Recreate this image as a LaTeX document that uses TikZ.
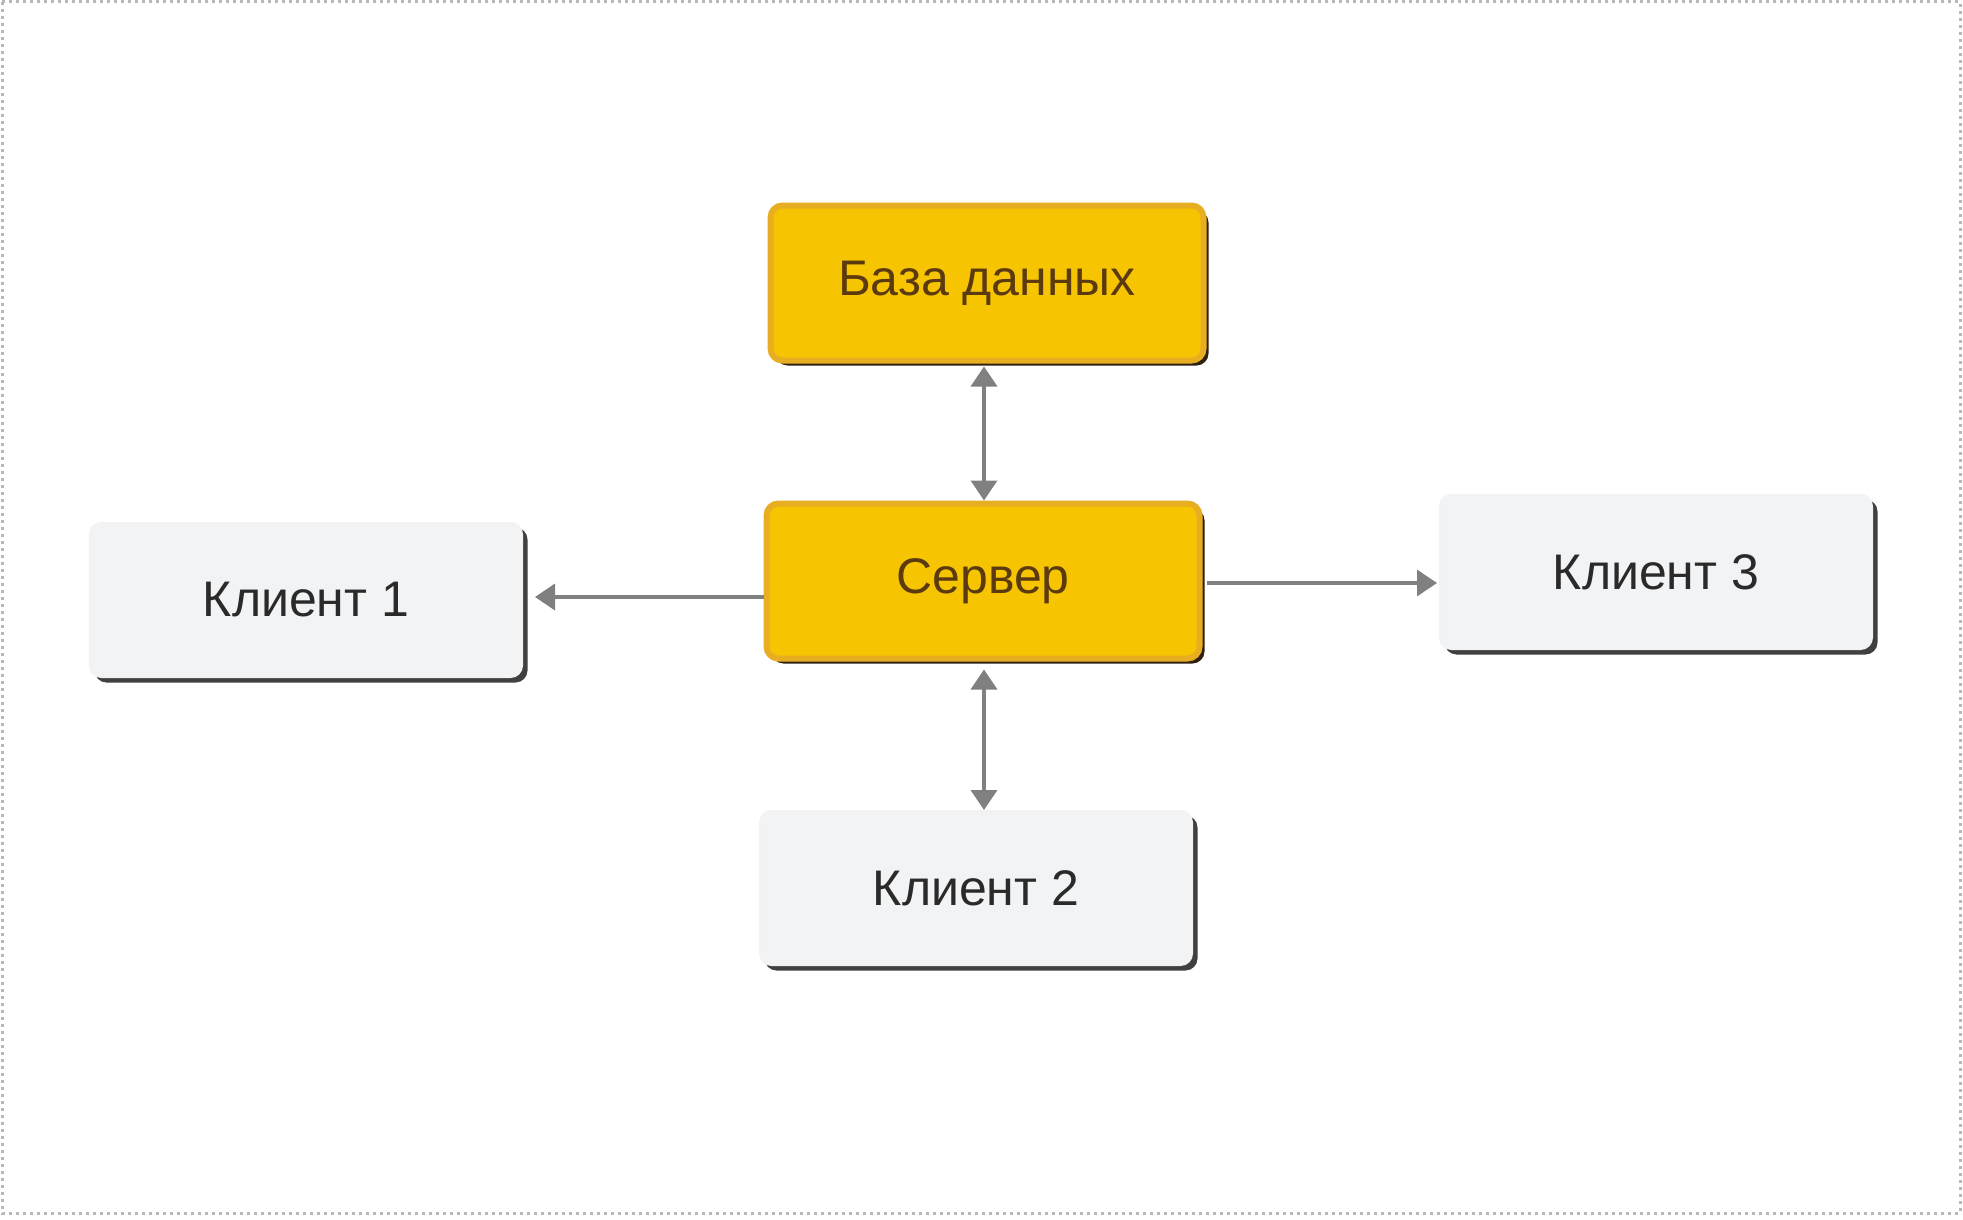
\documentclass[tikz,border=0pt]{standalone}
\usepackage{fontspec}
\setmainfont{Liberation Sans}
\usetikzlibrary{arrows.meta,shadows}
\definecolor{ybox}{HTML}{F6C400}
\definecolor{yedge}{HTML}{E8AE22}
\definecolor{ytext}{HTML}{5A3A0E}
\definecolor{gbox}{HTML}{F1F3F5}
\definecolor{gtext}{HTML}{2A2A2A}
\definecolor{arrc}{HTML}{808080}
\definecolor{framec}{HTML}{B8B8B8}
\tikzset{
  boxbase/.style={rectangle, rounded corners=12pt, minimum width=433pt, minimum height=155pt,
    inner sep=0pt, font=\fontsize{50}{58}\selectfont},
  ybx/.style={boxbase, fill=ybox, draw=yedge, line width=6pt, text=ytext,
    drop shadow={shadow xshift=5pt, shadow yshift=-5pt, fill=black!75!brown, opacity=1}},
  gbx/.style={boxbase, fill=gbox, draw=white!90!gray, line width=1pt, text=gtext,
    drop shadow={shadow xshift=5pt, shadow yshift=-5pt, fill=black!75, opacity=1}},
  arr/.style={draw=arrc, line width=3.5pt, -{Triangle[length=20pt,width=26pt]}},
  darr/.style={draw=arrc, line width=3.5pt, {Triangle[length=20pt,width=26pt]}-{Triangle[length=20pt,width=26pt]}}
}
\begin{document}
\begin{tikzpicture}[x=1pt,y=-1pt]
\useasboundingbox (0,0) rectangle (1963,1220);
\fill[white] (0,0) rectangle (1963,1220);
\draw[framec, line width=3pt, dash pattern=on 3pt off 4pt] (2,2) rectangle (1960,1213);
\node[ybx] (db) at (987,283) {База данных};
\node[ybx] (srv) at (983,581) {Сервер};
\node[gbx] (c1) at (306,600) {Клиент 1};
\node[gbx] (c3) at (1656,572) {Клиент 3};
\node[gbx] (c2) at (976,888) {Клиент 2};
\draw[darr, shorten <=3pt] (db.south -| 984,0) -- (srv.north -| 984,0);
\draw[darr, shorten <=8pt] (srv.south -| 984,0) -- (c2.north -| 984,0);
\draw[arr, shorten >=12pt] (srv.west |- 0,597) -- (c1.east |- 0,597);
\draw[arr, shorten <=4pt, shorten >=2pt] (srv.east |- 0,583) -- (c3.west |- 0,583);
\end{tikzpicture}
\end{document}
